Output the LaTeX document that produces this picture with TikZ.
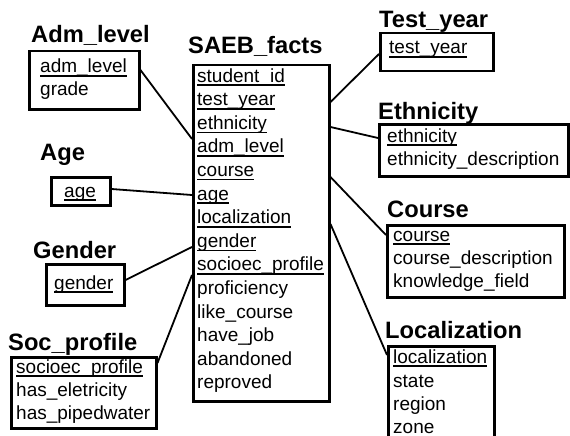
\documentclass[tikz,border=0pt]{standalone}
\usepackage{fontspec}
\setmainfont{Liberation Sans}
\usetikzlibrary{calc}
\newcommand\myul[1]{\leavevmode\setbox0=\hbox{#1}\rlap{\rule[-4pt]{\wd0}{1.6pt}}\box0}
\tikzset{
  ebox/.style={draw, line width=2.5pt, anchor=north west, inner sep=0pt},
  attr/.style={anchor=base west, inner sep=0pt, font=\fontsize{19pt}{21pt}\selectfont},
  ttl/.style={anchor=base west, inner sep=0pt, font=\fontsize{23.7pt}{26pt}\selectfont\bfseries},
  conn/.style={line width=1.8pt}
}
\begin{document}
\begin{tikzpicture}[x={(1pt,0)}, y={(0,-1pt)}]
\useasboundingbox (0,0) rectangle (570,436);
\fill[white] (0,0) rectangle (570,436);

% Adm_level
\node[ttl] (tadm) at (31,43) {Adm\_level};
\node[ebox, minimum width=110pt, minimum height=58pt] (admbox) at (28,50) {};
\node[attr] (adm1) at (40,73) {\myul{adm\_level}};
\node[attr] (adm2) at (40,95) {grade};

% SAEB_facts
\node[ttl] (tsaeb) at (188,53) {SAEB\_facts};
\node[ebox, minimum width=136pt, minimum height=336pt] (saeb) at (192,64) {};
\node[attr] (s1) at (197,82) {\myul{student\_id}};
\node[attr] (s2) at (197,105.6) {\myul{test\_year}};
\node[attr] (s3) at (197,129.2) {\myul{ethnicity}};
\node[attr] (s4) at (197,152.8) {\myul{adm\_level}};
\node[attr] (s5) at (197,176.4) {\myul{course}};
\node[attr] (s6) at (197,200) {\myul{age}};
\node[attr] (s7) at (197,223.6) {\myul{localization}};
\node[attr] (s8) at (197,247.2) {\myul{gender}};
\node[attr] (s9) at (197,270.8) {\myul{socioec\_profile}};
\node[attr] (s10) at (197,294.4) {proficiency};
\node[attr] (s11) at (197,318) {like\_course};
\node[attr] (s12) at (197,341.6) {have\_job};
\node[attr] (s13) at (197,365.2) {abandoned};
\node[attr] (s14) at (197,388.8) {reproved};

% Test_year
\node[ttl] (ttest) at (379,28) {Test\_year};
\node[ebox, minimum width=113pt, minimum height=38pt] (testbox) at (379,32) {};
\node[attr] (t1) at (389,54) {\myul{test\_year}};

% Ethnicity
\node[ttl] (teth) at (378,119) {Ethnicity};
\node[ebox, minimum width=189pt, minimum height=52pt] (ethbox) at (378,123) {};
\node[attr] (e1) at (387,142) {\myul{ethnicity}};
\node[attr] (e2) at (387,165) {ethnicity\_description};

% Course
\node[ttl] (tcourse) at (387,217) {Course};
\node[ebox, minimum width=177pt, minimum height=72pt] (coursebox) at (386,224) {};
\node[attr] (c1) at (393,241) {\myul{course}};
\node[attr] (c2) at (393,264) {course\_description};
\node[attr] (c3) at (393,287) {knowledge\_field};

% Localization
\node[ttl] (tloc) at (385,338) {Localization};
\node[ebox, minimum width=106pt, minimum height=105pt] (locbox) at (387,345) {};
\node[attr] (l1) at (393,363) {\myul{localization}};
\node[attr] (l2) at (393,387) {state};
\node[attr] (l3) at (393,410) {region};
\node[attr] (l4) at (393,433) {zone};

% Age
\node[ttl] (tage) at (40,160) {Age};
\node[ebox, minimum width=59pt, minimum height=28pt] (agebox) at (50,176) {};
\node[attr] (g1) at (64,197) {\myul{age}};

% Gender
\node[ttl] (tgen) at (33,258) {Gender};
\node[ebox, minimum width=78pt, minimum height=41pt] (genbox) at (45,263) {};
\node[attr] (gd1) at (54,289) {\myul{gender}};

% Soc_profile
\node[ttl] (tsoc) at (8,350) {Soc\_profile};
\node[ebox, minimum width=145pt, minimum height=71pt] (socbox) at (10,356) {};
\node[attr] (p1) at (16,373) {\myul{socioec\_profile}};
\node[attr] (p2) at (16,396) {has\_eletricity};
\node[attr] (p3) at (16,419) {has\_pipedwater};

% connectors
\draw[conn] ($(admbox.north east)+(0,20)$) -- ($(saeb.north west)+(0,75)$);
\draw[conn] ($(agebox.north east)+(0,13)$) -- ($(saeb.north west)+(0,131)$);
\draw[conn] ($(genbox.north east)+(0,17)$) -- ($(saeb.north west)+(0,183)$);
\draw[conn] ($(socbox.north east)+(0,7)$) -- ($(saeb.north west)+(0,211)$);
\draw[conn] ($(saeb.north east)+(0,38)$) -- ($(testbox.north west)+(0,22)$);
\draw[conn] ($(saeb.north east)+(0,63)$) -- ($(ethbox.north west)+(0,15)$);
\draw[conn] ($(saeb.north east)+(0,113)$) -- ($(coursebox.north west)+(0,11)$);
\draw[conn] ($(saeb.north east)+(0,160)$) -- ($(locbox.north west)+(0,10)$);
\end{tikzpicture}
\end{document}
